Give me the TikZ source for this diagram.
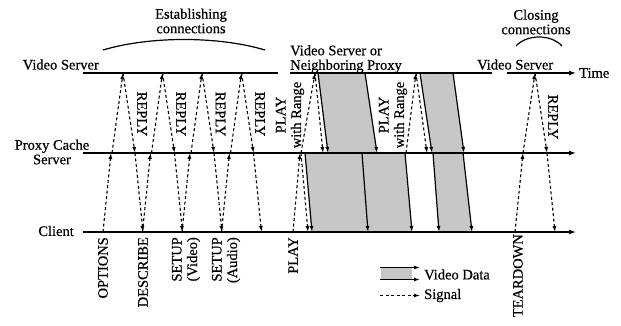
\documentclass[tikz,border=0pt]{standalone}
\usepackage{fontspec}
\setmainfont{Liberation Serif}
\newfontface\lblface{Liberation Serif}[FakeBold=0.5]
\usetikzlibrary{arrows.meta}
\begin{document}
\begin{tikzpicture}[x=1pt,y=-1pt,
  lbl/.style={font=\lblface\fontsize{14.5}{14.5}\selectfont, inner sep=0pt},
  rlbl/.style={font=\lblface\fontsize{14.5}{15.5}\selectfont, inner sep=0pt},
  axis/.style={line width=1.3pt},
  axisarrow/.style={line width=1.3pt, -{Latex[length=7pt,width=5pt]}},
  sig/.style={line width=1.1pt, dash pattern=on 3pt off 2.5pt, -{Latex[length=6pt,width=4pt]}},
  data/.style={line width=1.2pt, -{Latex[length=6pt,width=4pt]}},
  band/.style={fill=black!22, draw=none},
  brace/.style={line width=1.2pt},
]
\useasboundingbox (0,0) rectangle (621,326);

% ---------- time lines ----------
\coordinate (s0) at (83,73);   \coordinate (s1) at (278,73);
\coordinate (s2) at (290,73);  \coordinate (s3) at (492,73);
\coordinate (s4) at (507,73);  \coordinate (s5) at (576,73);
\coordinate (p0) at (83,153);  \coordinate (p5) at (576,153);
\coordinate (c0) at (83,232);  \coordinate (c5) at (576,232);

% ---------- video data bands ----------
\coordinate (sa1) at (318,73);  \coordinate (sa2) at (365,73);
\coordinate (pa1) at (328,153); \coordinate (pa2) at (377,153);
\coordinate (sb1) at (420,73);  \coordinate (sb2) at (453,73);
\coordinate (pb1) at (432,153); \coordinate (pb2) at (464,153);
\coordinate (q1) at (305,153);  \coordinate (q2) at (362,153);
\coordinate (q3) at (405,153);  \coordinate (q4) at (433,153);
\coordinate (q5) at (463,153);
\coordinate (d1) at (312,232);  \coordinate (d2) at (368,232);
\coordinate (d3) at (412,232);  \coordinate (d4) at (439,232);
\coordinate (d5) at (472,232);

\fill[band] (sa1) -- (sa2) -- (pa2) -- (pa1) -- cycle;
\fill[band] (sb1) -- (sb2) -- (pb2) -- (pb1) -- cycle;
\fill[band] (q1) -- (q3) -- (d3) -- (d1) -- cycle;
\fill[band] (q4) -- (q5) -- (d5) -- (d4) -- cycle;

\draw[axis] (s0) -- (s1);
\draw[axis] (s2) -- (s3);
\draw[axisarrow] (s4) -- (s5);
\draw[axisarrow] (p0) -- (p5);
\draw[axisarrow] (c0) -- (c5);

\draw[data] (sa1) -- (pa1);
\draw[data] (sa2) -- (pa2);
\draw[data] (sb1) -- (pb1);
\draw[data] (sb2) -- (pb2);
\draw[data] (q1) -- (d1);
\draw[data] (q2) -- (d2);
\draw[data] (q3) -- (d3);
\draw[data] (q4) -- (d4);
\draw[data] (q5) -- (d5);

% ---------- establishing signals ----------
\foreach \k/\b in {0/103,1/142.5,2/182,3/221.5}{
  \coordinate (ec\k) at (\b,232);
  \coordinate (epu\k) at ({\b+8},153);
  \coordinate (eps\k) at ({\b+9},153);
  \coordinate (es\k) at ({\b+20},73);
  \coordinate (epd\k) at ({\b+32},153);
  \coordinate (en\k) at ({\b+40},232);
  \draw[sig] (ec\k) -- (epu\k);
  \draw[sig] (eps\k) -- (es\k);
  \draw[sig] (es\k) -- (epd\k);
  \draw[sig] (epd\k) -- (en\k);
}

% ---------- play signals ----------
\coordinate (pc) at (293,232);  \coordinate (pp) at (300,153);
\coordinate (pps) at (301,153); \coordinate (ps) at (315,73);
\coordinate (ppd) at (323,153); \coordinate (pcd) at (308,232);
\draw[sig] (pc) -- (pp);
\draw[sig] (pps) -- (ps);
\draw[sig] (ps) -- (ppd);
\draw[sig] (pps) -- (pcd);

\coordinate (rp) at (406,153); \coordinate (rs) at (416,73);
\coordinate (rpd) at (427,153);
\draw[sig] (rp) -- (rs);
\draw[sig] (rs) -- (rpd);

% ---------- closing signals ----------
\coordinate (tc) at (515,232); \coordinate (tp) at (523,153);
\coordinate (ts) at (535,73);  \coordinate (tpd) at (547,153);
\coordinate (tcd) at (555,232);
\draw[sig] (tc) -- (tp);
\draw[sig] (tp) -- (ts);
\draw[sig] (ts) -- (tpd);
\draw[sig] (tpd) -- (tcd);

% ---------- arcs ----------
\draw[brace] (103,50) .. controls (150,36) and (218,36) .. (265,50);
\draw[brace] (516,46) .. controls (527,34) and (551,34) .. (562,46);

% ---------- labels ----------
\node[lbl, align=center] (estab) at (191,21) {Establishing\\connections};
\node[lbl, align=center] (closing) at (536,22) {Closing\\connections};
\node[lbl, anchor=base east] (vs) at (99,69.5) {Video Server};
\node[lbl, align=center] (pcs) at (52,152) {Proxy Cache\\Server};
\node[lbl, anchor=east] (cl) at (74,231) {Client};
\node[lbl, align=left, anchor=north west] (vsn) at (290,45) {Video Server or\\Neighboring Proxy};
\node[lbl, anchor=base west] (vs2) at (477,69.5) {Video Server};
\node[lbl, anchor=west] (time) at (579,73) {Time};

\foreach \i/\x in {1/142,2/181,3/220.5,4/260}{
  \node[lbl, rotate=-90] (rep\i) at (\x,114) {REPLY};
}
\node[lbl, rotate=-90] (rep5) at (553,117) {REPLY};

\node[rlbl, rotate=90, align=center] (pr1) at (290,115) {PLAY\\with Range};
\node[rlbl, rotate=90, align=center] (pr2) at (393,115) {PLAY\\with Range};

\node[lbl, rotate=90, anchor=east] (opt) at (103,237) {OPTIONS};
\node[lbl, rotate=90, anchor=east] (desc) at (143,237) {DESCRIBE};
\node[rlbl, rotate=90, anchor=east, align=right] (setv) at (186,237) {SETUP\\(Video)};
\node[rlbl, rotate=90, anchor=east, align=right] (seta) at (226,237) {SETUP\\(Audio)};
\node[lbl, rotate=90, anchor=east] (play) at (293,237) {PLAY};
\node[lbl, rotate=90, anchor=east] (tear) at (518,234) {TEARDOWN};

% ---------- legend ----------
\coordinate (la1) at (380,267.5); \coordinate (la2) at (420,267.5);
\coordinate (lb1) at (380,279.5); \coordinate (lb2) at (420,279.5);
\fill[band] (381,267.5) rectangle (412,279.5);
\draw[data] (la1) -- (la2);
\draw[data] (lb1) -- (lb2);
\node[lbl, anchor=west] (vd) at (424,274.5) {Video Data};
\coordinate (ls1) at (380,295.5); \coordinate (ls2) at (420,295.5);
\draw[sig] (ls1) -- (ls2);
\node[lbl, anchor=west] (sg) at (424,295.5) {Signal};
\end{tikzpicture}
\end{document}
